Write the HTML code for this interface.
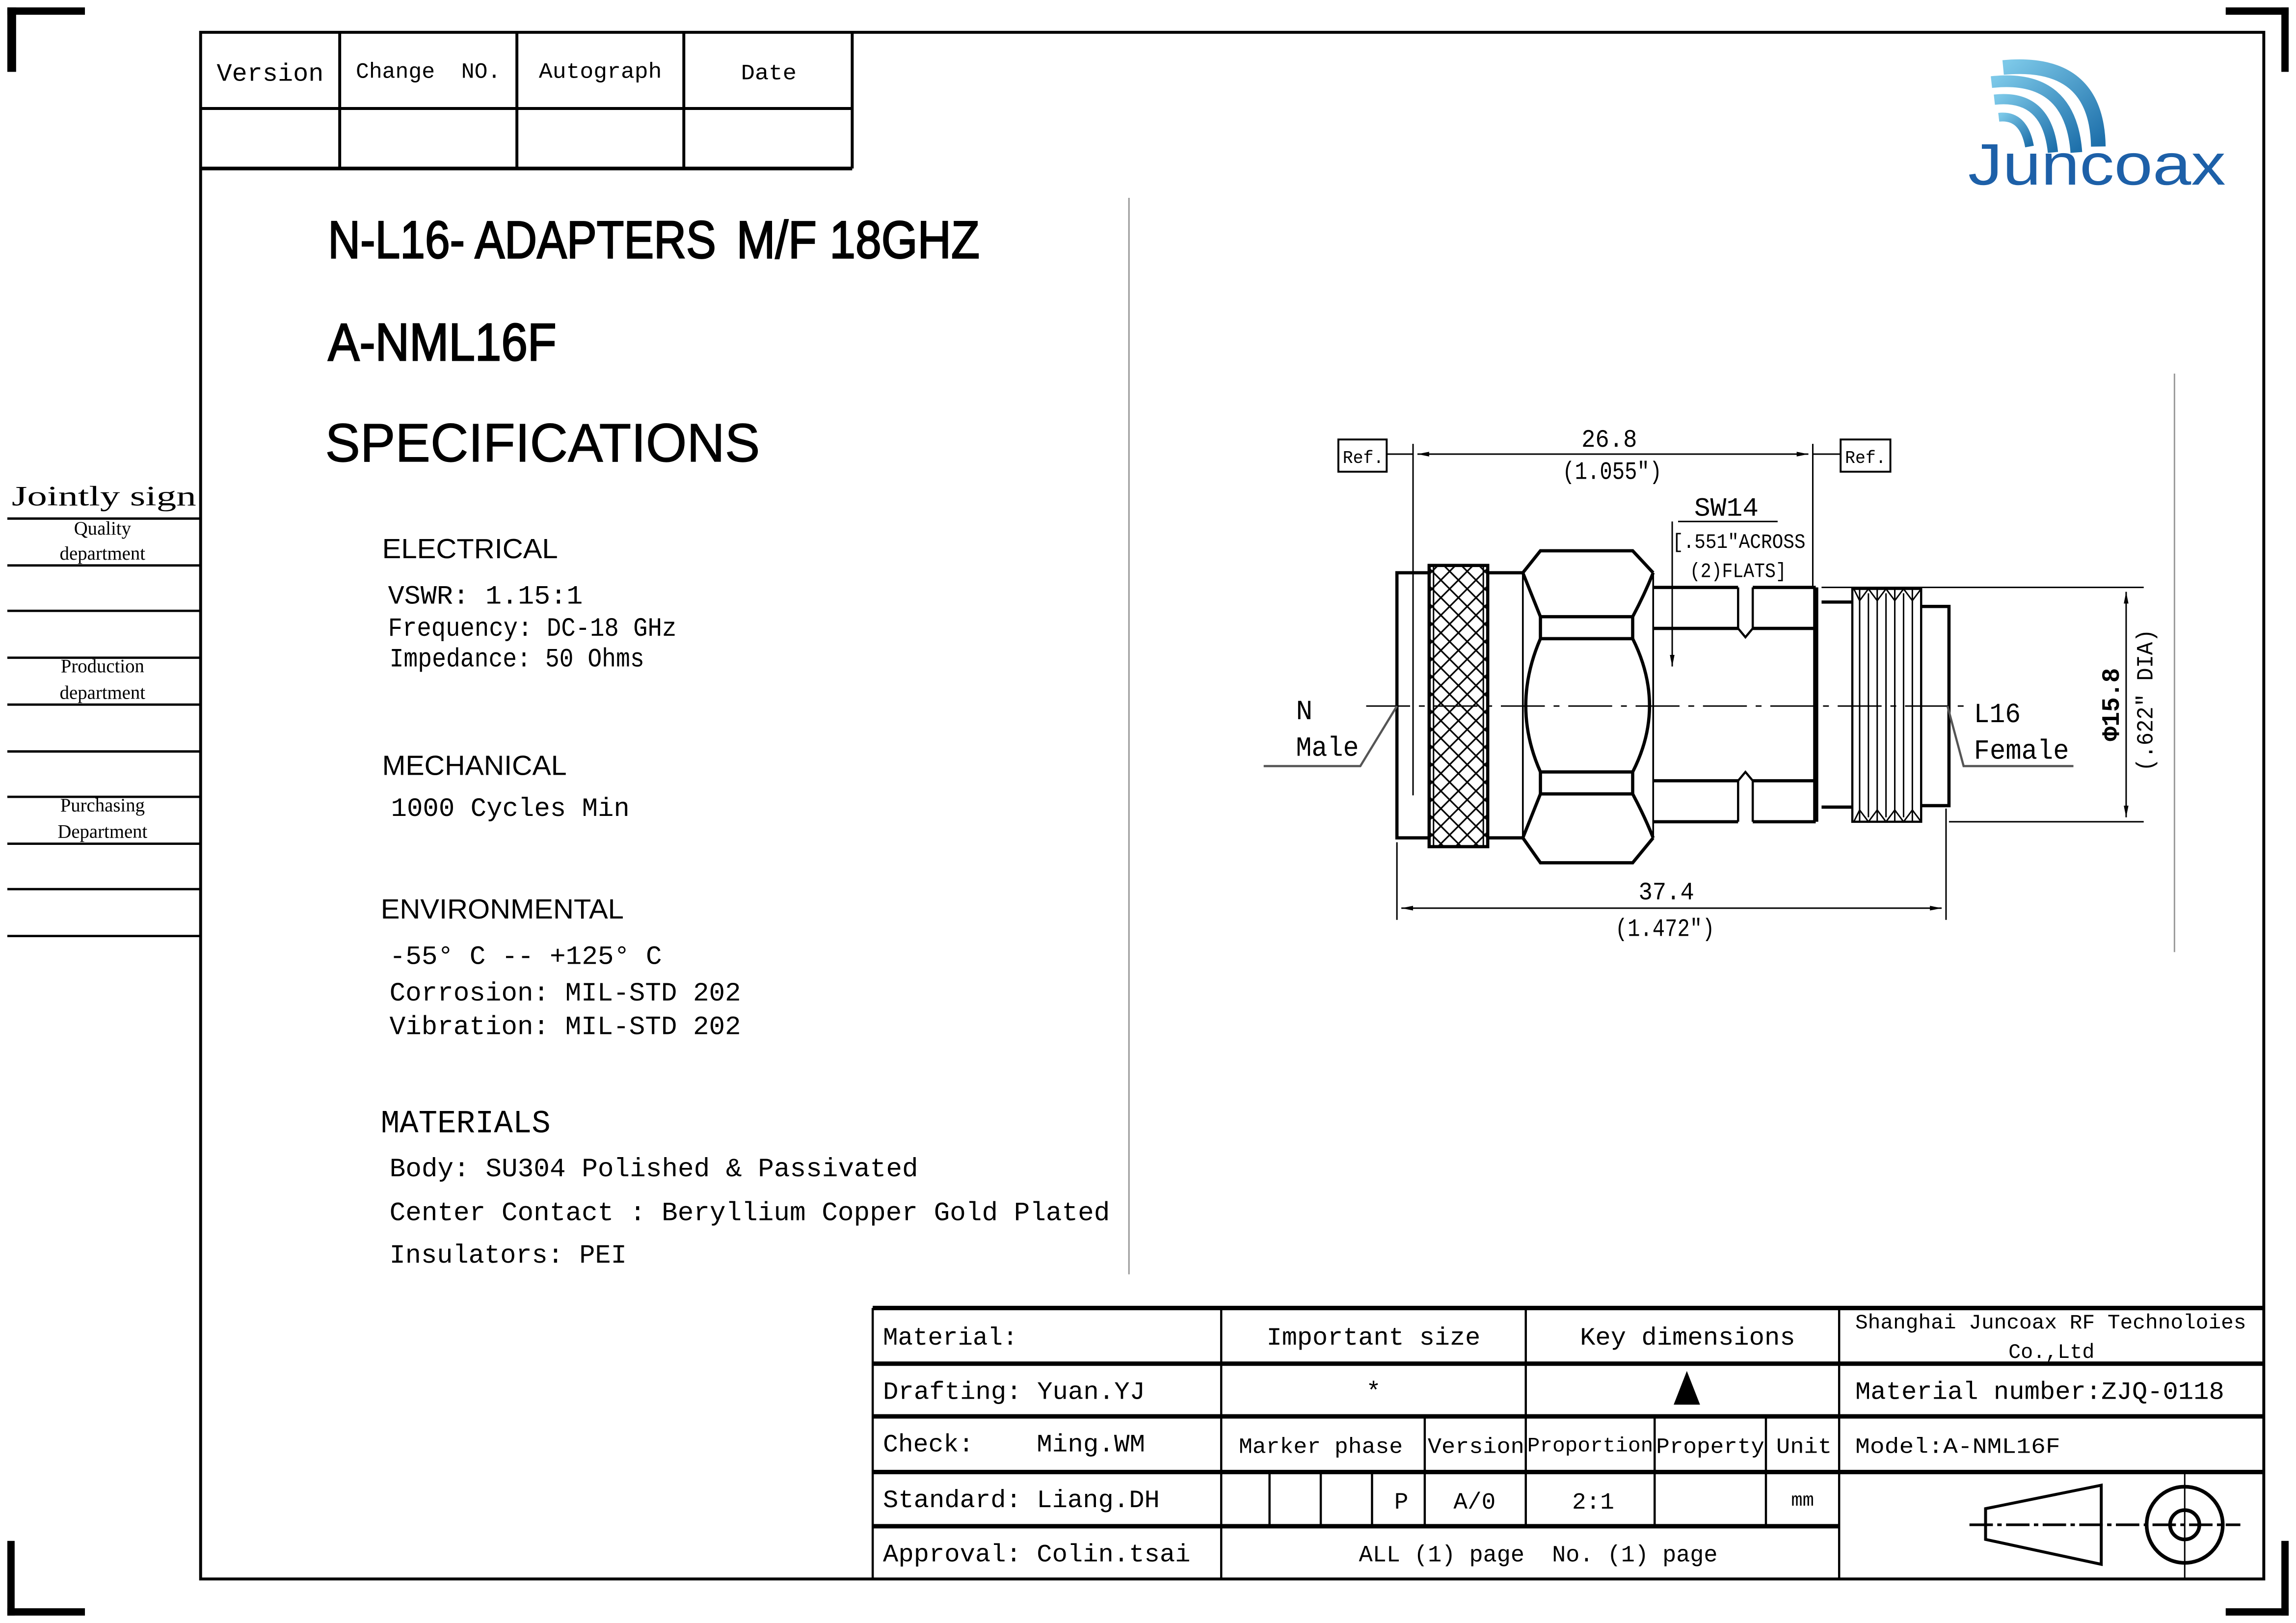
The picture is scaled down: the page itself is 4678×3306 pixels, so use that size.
<!DOCTYPE html>
<html><head><meta charset="utf-8"><style>
html,body{margin:0;padding:0;background:#fff;}
svg{display:block;}
</style></head><body>
<svg width="4678" height="3306" viewBox="0 0 1568 1108" xmlns="http://www.w3.org/2000/svg">
<defs>
<linearGradient id="lg" x1="0" y1="0" x2="1" y2="1"><stop offset="0" stop-color="#7cc8e8"/><stop offset="1" stop-color="#1d6faa"/></linearGradient>
<pattern id="knurl" width="12" height="12" patternUnits="userSpaceOnUse">
<path d="M0,0 L12,12 M12,0 L0,12" stroke="#000" stroke-width="1.1"/>
</pattern>
<marker id="ar" viewBox="0 0 10 10" refX="10" refY="5" markerWidth="8" markerHeight="8" orient="auto-start-reverse"><path d="M0,3 L10,5 L0,7 z" fill="#000"/></marker>
</defs>
<rect width="1568" height="1108" fill="#fff"/>
<g fill="#000">
<rect x="5" y="5" width="53" height="5"/><rect x="5" y="5" width="6" height="44"/>
<rect x="1520" y="5" width="43" height="5"/><rect x="1558" y="5" width="5" height="44"/>
<rect x="5" y="1052" width="5" height="51"/><rect x="5" y="1098" width="53" height="5"/>
<rect x="1558" y="1052" width="5" height="51"/><rect x="1520" y="1098" width="43" height="5"/>
</g>
<rect x="137" y="22" width="1409" height="1056" fill="none" stroke="#000" stroke-width="2"/>
<g stroke="#000" stroke-width="2" fill="none">
<line x1="137" y1="74" x2="582" y2="74"/>
<line x1="137" y1="115" x2="582" y2="115" stroke-width="2.5"/>
<line x1="582" y1="22" x2="582" y2="115"/>
<line x1="232" y1="22" x2="232" y2="115"/>
<line x1="353" y1="22" x2="353" y2="115"/>
<line x1="467" y1="22" x2="467" y2="115"/>
</g>
<g font-family="Liberation Mono, monospace" font-size="17" fill="#000">
<text x="148" y="55" textLength="73" lengthAdjust="spacingAndGlyphs">Version</text>
<text x="243" y="53" font-size="15" textLength="99" lengthAdjust="spacingAndGlyphs" xml:space="preserve">Change  NO.</text>
<text x="368" y="53" font-size="15" textLength="84" lengthAdjust="spacingAndGlyphs">Autograph</text>
<text x="506" y="54" font-size="15" textLength="38" lengthAdjust="spacingAndGlyphs">Date</text>
</g>
<line x1="771" y1="135" x2="771" y2="870" stroke="#999" stroke-width="1"/>
<line x1="1485" y1="255" x2="1485" y2="650" stroke="#999" stroke-width="1"/>
<g stroke="#000" stroke-width="1.6">
<line x1="5" y1="354" x2="137" y2="354"/><line x1="5" y1="386" x2="137" y2="386"/>
<line x1="5" y1="417" x2="137" y2="417"/><line x1="5" y1="449" x2="137" y2="449"/>
<line x1="5" y1="481" x2="137" y2="481"/><line x1="5" y1="513" x2="137" y2="513"/>
<line x1="5" y1="544" x2="137" y2="544"/><line x1="5" y1="576" x2="137" y2="576"/>
<line x1="5" y1="607" x2="137" y2="607"/><line x1="5" y1="639" x2="137" y2="639"/>
</g>
<g font-family="Liberation Serif, serif" fill="#000" text-anchor="middle">
<text x="8" y="345" font-size="19" text-anchor="start" textLength="126" lengthAdjust="spacingAndGlyphs">Jointly sign</text>
<text x="70" y="365" font-size="13">Quality</text>
<text x="70" y="382" font-size="13">department</text>
<text x="70" y="459" font-size="13">Production</text>
<text x="70" y="477" font-size="13">department</text>
<text x="70" y="554" font-size="13">Purchasing</text>
<text x="70" y="572" font-size="13">Department</text>
</g>
<g font-family="Liberation Sans, sans-serif" fill="#000">
<text x="224" y="176" font-size="36" textLength="265" lengthAdjust="spacingAndGlyphs" stroke="#000" stroke-width="0.9">N-L16- ADAPTERS</text>
<text x="503" y="176" font-size="36" textLength="166" lengthAdjust="spacingAndGlyphs" stroke="#000" stroke-width="0.9">M/F 18GHZ</text>
<text x="224" y="246" font-size="36" textLength="156" lengthAdjust="spacingAndGlyphs" stroke="#000" stroke-width="0.9">A-NML16F</text>
<text x="222" y="315" font-size="37" textLength="297" lengthAdjust="spacingAndGlyphs" stroke="#000" stroke-width="0.4">SPECIFICATIONS</text>
<text x="261" y="381" font-size="19" textLength="120" lengthAdjust="spacingAndGlyphs">ELECTRICAL</text>
<text x="261" y="529" font-size="19" textLength="126" lengthAdjust="spacingAndGlyphs">MECHANICAL</text>
<text x="260" y="627" font-size="19" textLength="166" lengthAdjust="spacingAndGlyphs">ENVIRONMENTAL</text>
</g>
<g font-family="Liberation Mono, monospace" fill="#000" font-size="18">
<text x="265" y="412" textLength="133" lengthAdjust="spacingAndGlyphs">VSWR:  1.15:1</text>
<text x="265" y="434" textLength="197" lengthAdjust="spacingAndGlyphs">Frequency: DC-18 GHz</text>
<text x="266" y="455" textLength="174" lengthAdjust="spacingAndGlyphs">Impedance: 50 Ohms</text>
<text x="267" y="557" textLength="163" lengthAdjust="spacingAndGlyphs">1000 Cycles Min</text>
<text x="266" y="658" textLength="186" lengthAdjust="spacingAndGlyphs">-55° C -- +125° C</text>
<text x="266" y="683" textLength="240" lengthAdjust="spacingAndGlyphs">Corrosion: MIL-STD 202</text>
<text x="266" y="706" textLength="240" lengthAdjust="spacingAndGlyphs">Vibration: MIL-STD 202</text>
<text x="260" y="773" font-size="22" textLength="116" lengthAdjust="spacingAndGlyphs">MATERIALS</text>
<text x="266" y="803" textLength="361" lengthAdjust="spacingAndGlyphs">Body: SU304 Polished &amp; Passivated</text>
<text x="266" y="833" textLength="492" lengthAdjust="spacingAndGlyphs">Center Contact : Beryllium Copper Gold Plated</text>
<text x="266" y="862" textLength="162" lengthAdjust="spacingAndGlyphs">Insulators: PEI</text>
</g>
<!-- logo -->
<g fill="none" stroke="url(#lg)">
<path d="M1365,80 Q1382,78 1386,100" stroke-width="6"/>
<path d="M1362,68 Q1398,64 1402,104" stroke-width="7"/>
<path d="M1360,56 Q1414,50 1418,104" stroke-width="8"/>
<path d="M1368,46 Q1432,40 1433,100" stroke-width="10"/>
</g>
<text x="1344" y="126" font-family="Liberation Sans, sans-serif" font-size="40" fill="#1d60a8" textLength="176" lengthAdjust="spacingAndGlyphs">Juncoax</text>
<!-- drawing -->
<g stroke="#000" fill="none" stroke-width="2.2">
<path d="M976,391 L954,391 L954,572 L976,572"/>
<rect x="976" y="386" width="40" height="192" fill="url(#knurl)"/>
<line x1="979" y1="386" x2="979" y2="578" stroke-width="1"/>
<line x1="1013" y1="386" x2="1013" y2="578" stroke-width="1"/>
<path d="M1016,391 L1040,391 M1016,572 L1040,572"/>
<line x1="1040" y1="391" x2="1040" y2="572" stroke-width="1.2"/>
<path d="M1040,391 L1052,376 L1115,376 L1129,391"/>
<path d="M1040,572 L1052,589 L1115,589 L1129,572"/>
<path d="M1040,391 Q1046,406 1052,421 M1129,391 Q1123,406 1115,421"/>
<path d="M1040,572 Q1046,557 1052,542 M1129,572 Q1123,557 1115,542"/>
<line x1="1052" y1="421" x2="1115" y2="421"/><line x1="1052" y1="436" x2="1115" y2="436"/>
<line x1="1052" y1="527" x2="1115" y2="527"/><line x1="1052" y1="542" x2="1115" y2="542"/>
<line x1="1052" y1="421" x2="1052" y2="436"/><line x1="1115" y1="421" x2="1115" y2="436"/>
<line x1="1052" y1="527" x2="1052" y2="542"/><line x1="1115" y1="527" x2="1115" y2="542"/>
<path d="M1052,436 Q1032,482 1052,527"/>
<path d="M1115,436 Q1138,482 1115,527"/>
<line x1="1129" y1="391" x2="1129" y2="572" stroke-width="1.2"/>
<line x1="1129" y1="401" x2="1187" y2="401"/><line x1="1197" y1="401" x2="1240" y2="401"/>
<line x1="1129" y1="429" x2="1187" y2="429"/><line x1="1197" y1="429" x2="1240" y2="429"/>
<line x1="1129" y1="561" x2="1187" y2="561"/><line x1="1197" y1="561" x2="1240" y2="561"/>
<line x1="1129" y1="533" x2="1187" y2="533"/><line x1="1197" y1="533" x2="1240" y2="533"/>
<path d="M1187,401 L1187,429 L1192,435 L1197,429 L1197,401" stroke-width="1.5"/>
<path d="M1187,561 L1187,533 L1192,527 L1197,533 L1197,561" stroke-width="1.5"/>
<line x1="1240" y1="401" x2="1240" y2="561" stroke-width="3.5"/>
<path d="M1244,411 L1265,411 M1244,551 L1265,551"/>
<rect x="1265" y="402" width="47" height="159" stroke-width="1.5"/>
<path d="M1312,414 L1331,414 L1331,550 L1312,550"/>
</g>
<g stroke="#000" stroke-width="1" fill="none">
<path d="M1270,402 L1270,561 M1276,405 L1276,558 M1282,402 L1282,561 M1288,405 L1288,558 M1294,402 L1294,561 M1300,405 L1300,558 M1306,402 L1306,561"/>
<path d="M1266,402 L1270,410 L1276,402 L1282,410 L1288,402 L1294,410 L1300,402 L1306,410 L1312,402"/>
<path d="M1266,561 L1270,553 L1276,561 L1282,553 L1288,561 L1294,553 L1300,561 L1306,553 L1312,561"/>
<line x1="933" y1="482" x2="1347" y2="482" stroke-dasharray="30,6,4,6"/>
<line x1="965" y1="303" x2="965" y2="543"/>
<line x1="1238" y1="303" x2="1238" y2="401"/>
<line x1="968" y1="310" x2="1235" y2="310" marker-start="url(#ar)" marker-end="url(#ar)"/>
<line x1="947" y1="310" x2="965" y2="310"/><line x1="1238" y1="310" x2="1257" y2="310"/>
<rect x="914" y="300" width="33" height="22" stroke-width="1.3"/>
<rect x="1257" y="300" width="34" height="22" stroke-width="1.3"/>
<line x1="954" y1="575" x2="954" y2="628"/>
<line x1="1329" y1="552" x2="1329" y2="628"/>
<line x1="957" y1="620" x2="1326" y2="620" marker-start="url(#ar)" marker-end="url(#ar)"/>
<line x1="1244" y1="401" x2="1464" y2="401"/>
<line x1="1331" y1="561" x2="1464" y2="561"/>
<line x1="1452" y1="404" x2="1452" y2="558" marker-start="url(#ar)" marker-end="url(#ar)"/>
<line x1="1146" y1="356" x2="1214" y2="356"/>
<line x1="1142" y1="356" x2="1142" y2="455" marker-end="url(#ar)"/>
<path d="M863,523 L929,523 L954,482" stroke="#555" stroke-width="1.5"/>
<path d="M1416,523 L1341,523 L1330,482" stroke="#555" stroke-width="1.5"/>
</g>
<g font-family="Liberation Mono, monospace" fill="#000">
<text x="917" y="316" font-size="12" textLength="28" lengthAdjust="spacingAndGlyphs">Ref.</text>
<text x="1260" y="316" font-size="12" textLength="28" lengthAdjust="spacingAndGlyphs">Ref.</text>
<text x="1099" y="305" font-size="17" text-anchor="middle" textLength="38" lengthAdjust="spacingAndGlyphs">26.8</text>
<text x="1101" y="327" font-size="17" text-anchor="middle" textLength="68" lengthAdjust="spacingAndGlyphs">(1.055″)</text>
<text x="1157" y="352" font-size="18" textLength="44" lengthAdjust="spacingAndGlyphs">SW14</text>
<text x="1142" y="374" font-size="14" textLength="91" lengthAdjust="spacingAndGlyphs">[.551″ACROSS</text>
<text x="1154" y="394" font-size="14" textLength="66" lengthAdjust="spacingAndGlyphs">(2)FLATS]</text>
<text x="1138" y="614" font-size="17" text-anchor="middle" textLength="38" lengthAdjust="spacingAndGlyphs">37.4</text>
<text x="1137" y="639" font-size="17" text-anchor="middle" textLength="68" lengthAdjust="spacingAndGlyphs">(1.472″)</text>
<text x="885" y="491" font-size="19">N</text>
<text x="885" y="516" font-size="19" textLength="43" lengthAdjust="spacingAndGlyphs">Male</text>
<text x="1348" y="493" font-size="19" textLength="32" lengthAdjust="spacingAndGlyphs">L16</text>
<text x="1348" y="518" font-size="19" textLength="65" lengthAdjust="spacingAndGlyphs">Female</text>
<text transform="translate(1447,481) rotate(-90)" font-size="17" text-anchor="middle" textLength="50" lengthAdjust="spacingAndGlyphs" font-weight="bold">Φ15.8</text>
<text transform="translate(1470,478) rotate(-90)" font-size="16" text-anchor="middle" textLength="97" lengthAdjust="spacingAndGlyphs">(.622″ DIA)</text>
</g>
<g stroke="#000" fill="none">
<g stroke-width="3">
<line x1="596" y1="893" x2="1546" y2="893"/>
<line x1="596" y1="931" x2="1546" y2="931"/>
<line x1="596" y1="967" x2="1546" y2="967"/>
<line x1="596" y1="1005" x2="1546" y2="1005"/>
<line x1="596" y1="1042" x2="1256" y2="1042"/>
</g>
<g stroke-width="1.5">
<line x1="596" y1="893" x2="596" y2="1078"/>
<line x1="834" y1="893" x2="834" y2="1078"/>
<line x1="1042" y1="893" x2="1042" y2="1042"/>
<line x1="1256" y1="893" x2="1256" y2="1078"/>
<line x1="973" y1="967" x2="973" y2="1042"/>
<line x1="1130" y1="967" x2="1130" y2="1042"/>
<line x1="1206" y1="967" x2="1206" y2="1042"/>
<line x1="867" y1="1005" x2="867" y2="1042"/>
<line x1="902" y1="1005" x2="902" y2="1042"/>
<line x1="937" y1="1005" x2="937" y2="1042"/>
</g>
<path d="M1356,1030 L1435,1014 L1435,1068 L1356,1051 Z" stroke-width="2"/>
<circle cx="1492" cy="1041" r="26" stroke-width="2.5"/>
<circle cx="1492" cy="1041" r="10" stroke-width="2.5"/>
<line x1="1345" y1="1041" x2="1530" y2="1041" stroke-width="1.8" stroke-dasharray="16,3,3,3"/>
<line x1="1492" y1="1004" x2="1492" y2="1078" stroke-width="1"/>
</g>
<path d="M1152,936 L1161,959 L1143,959 Z" fill="#000"/>
<g font-family="Liberation Mono, monospace" fill="#000" font-size="17">
<text x="603" y="918" textLength="92" lengthAdjust="spacingAndGlyphs">Material:</text>
<text x="865" y="918" textLength="146" lengthAdjust="spacingAndGlyphs">Important size</text>
<text x="1079" y="918" textLength="147" lengthAdjust="spacingAndGlyphs">Key dimensions</text>
<text x="1267" y="907" font-size="14" textLength="267" lengthAdjust="spacingAndGlyphs">Shanghai Juncoax RF Technoloies</text>
<text x="1401" y="927" font-size="14" text-anchor="middle">Co.,Ltd</text>
<text x="603" y="955" textLength="179" lengthAdjust="spacingAndGlyphs">Drafting: Yuan.YJ</text>
<text x="938" y="955" text-anchor="middle">*</text>
<text x="1267" y="955" textLength="252" lengthAdjust="spacingAndGlyphs">Material number:ZJQ-0118</text>
<text x="603" y="991" textLength="62" lengthAdjust="spacingAndGlyphs">Check:</text>
<text x="708" y="991" textLength="74" lengthAdjust="spacingAndGlyphs">Ming.WM</text>
<text x="846" y="992" font-size="15" textLength="112" lengthAdjust="spacingAndGlyphs">Marker phase</text>
<text x="975" y="992" font-size="15" textLength="66" lengthAdjust="spacingAndGlyphs">Version</text>
<text x="1043" y="991" font-size="14" textLength="86" lengthAdjust="spacingAndGlyphs">Proportion</text>
<text x="1131" y="992" font-size="15" textLength="74" lengthAdjust="spacingAndGlyphs">Property</text>
<text x="1213" y="992" font-size="15" textLength="38" lengthAdjust="spacingAndGlyphs">Unit</text>
<text x="1267" y="992" font-size="15" textLength="140" lengthAdjust="spacingAndGlyphs">Model:A-NML16F</text>
<text x="603" y="1029" textLength="189" lengthAdjust="spacingAndGlyphs">Standard: Liang.DH</text>
<text x="957" y="1030" font-size="16" text-anchor="middle">P</text>
<text x="1007" y="1030" font-size="16" text-anchor="middle">A/0</text>
<text x="1088" y="1030" font-size="16" text-anchor="middle">2:1</text>
<text x="1231" y="1028" font-size="13" text-anchor="middle">mm</text>
<text x="603" y="1066" textLength="210" lengthAdjust="spacingAndGlyphs">Approval: Colin.tsai</text>
<text x="928" y="1066" font-size="16" textLength="245" lengthAdjust="spacingAndGlyphs" xml:space="preserve">ALL (1) page  No. (1) page</text>
</g>
</svg>
</body></html>
